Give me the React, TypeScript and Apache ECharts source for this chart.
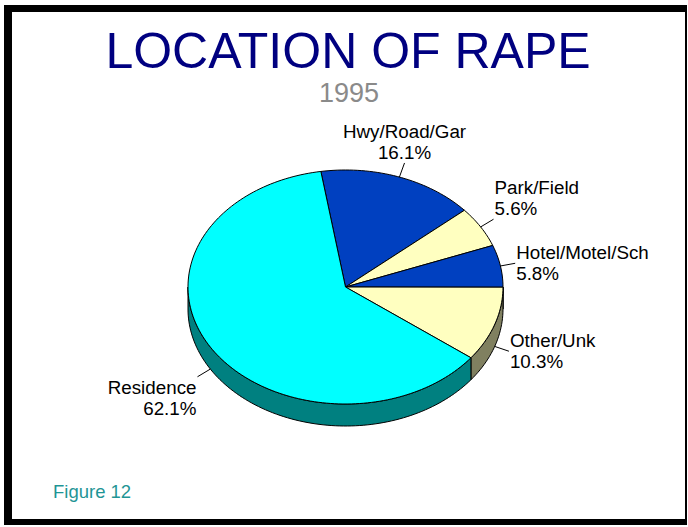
import React, { useEffect, useRef } from "react";
import * as echarts from "echarts";

// ---- data ----
const categories = ["Hwy/Road/Gar", "Park/Field", "Hotel/Motel/Sch", "Other/Unk", "Residence"];
const percents = [16.1, 5.6, 5.8, 10.3, 62.1];
const titleText = "LOCATION OF RAPE";
const subtitleText = "1995";
const figureText = "Figure 12";

// ---- styles ----
const topColors = ["#0040C0", "#FFFFC0", "#0040C0", "#FFFFC0", "#00FFFF"];
const sideColors = ["#002060", "#808060", "#002060", "#808060", "#008080"];
const FONT = '"Liberation Sans", Arial, sans-serif';

// ---- layout of the tilted pie ----
const CX = 345.5;
const CY = 287;
const RX = 157.5;
const RY = 117;
const DEPTH = 22;
const START_ANGLE = 99; // degrees, counter-clockwise from 3 o'clock; slices run clockwise
const LEADER = 15;

const total = percents.reduce((a, b) => a + b, 0);

function sliceAngles(i: number) {
  let before = 0;
  for (let k = 0; k < i; k++) before += percents[k];
  const aStart = START_ANGLE - (before / total) * 360;
  const aEnd = aStart - (percents[i] / total) * 360;
  return { aStart, aEnd };
}

function pt(a: number, dy = 0): number[] {
  const r = (a * Math.PI) / 180;
  return [CX + RX * Math.cos(r), CY - RY * Math.sin(r) + dy];
}

function arcPts(a1: number, a2: number, dy = 0): number[][] {
  const n = Math.max(2, Math.ceil(Math.abs(a2 - a1) / 1.5));
  const out: number[][] = [];
  for (let i = 0; i <= n; i++) out.push(pt(a1 + ((a2 - a1) * i) / n, dy));
  return out;
}

function renderSide(params: any) {
  const i = params.dataIndex;
  const { aStart, aEnd } = sliceAngles(i);
  const children: any[] = [];
  for (const k of [-1, 0, 1]) {
    const lo = Math.max(aEnd, -180 + 360 * k);
    const hi = Math.min(aStart, 360 * k);
    if (hi - lo > 0.01) {
      const pts = arcPts(hi, lo).concat(arcPts(lo, hi, DEPTH));
      children.push({
        type: "polygon",
        shape: { points: pts },
        style: { fill: sideColors[i], stroke: "#000", lineWidth: 1, lineJoin: "round" },
      });
    }
  }
  return { type: "group", children };
}

function renderTop(params: any, api: any) {
  const i = params.dataIndex;
  const value = api.value(0);
  const { aStart, aEnd } = sliceAngles(i);
  const pts = [[CX, CY]].concat(arcPts(aStart, aEnd));
  const mid = (aStart + aEnd) / 2;
  const r = (mid * Math.PI) / 180;
  const c = Math.cos(r);
  const s = Math.sin(r);
  const anchor = pt(mid, s < 0 ? DEPTH : 0);
  const end = [anchor[0] + c * LEADER, anchor[1] - s * LEADER];
  const align = c > 0.5 ? "left" : c < -0.5 ? "right" : "center";
  const vAlign = s > 0.4 ? "bottom" : s < -0.4 ? "top" : "middle";
  const tx = end[0] + (align === "left" ? 1 : align === "right" ? -1 : 0);
  return {
    type: "group",
    children: [
      {
        type: "polygon",
        shape: { points: pts },
        style: { fill: topColors[i], stroke: "#000", lineWidth: 1, lineJoin: "round" },
      },
      {
        type: "line",
        shape: { x1: anchor[0], y1: anchor[1], x2: end[0], y2: end[1] },
        style: { stroke: "#000", lineWidth: 1 },
      },
      {
        type: "text",
        style: {
          text: categories[i] + "\n" + value.toFixed(1) + "%",
          x: tx,
          y: end[1],
          fill: "#000",
          fontSize: 18.8,
          fontFamily: FONT,
          lineHeight: 21,
          textAlign: align,
          textVerticalAlign: vAlign,
          align: align,
          verticalAlign: vAlign,
        },
      },
    ],
  };
}

export default function App() {
  const ref = useRef<HTMLDivElement>(null);
  useEffect(() => {
    if (!ref.current) return;
    document.body.style.margin = "0";
    const chart = echarts.init(ref.current, undefined, { renderer: "svg" });
    const data = percents.map((v, i) => ({ name: categories[i], value: v }));
    chart.setOption({
      animation: false,
      backgroundColor: "#ffffff",
      graphic: [
        { type: "rect", shape: { x: 4, y: 5, width: 8, height: 520 }, style: { fill: "#000" } },
        { type: "rect", shape: { x: 4, y: 5, width: 683, height: 7 }, style: { fill: "#000" } },
        { type: "rect", shape: { x: 685, y: 5, width: 2, height: 520 }, style: { fill: "#000" } },
        { type: "rect", shape: { x: 4, y: 519, width: 683, height: 6 }, style: { fill: "#000" } },
        {
          type: "text",
          x: 348,
          y: 50.5,
          style: {
            text: titleText,
            fill: "#000080",
            fontSize: 50,
            fontFamily: FONT,
            textAlign: "center",
            textVerticalAlign: "middle",
          },
        },
        {
          type: "text",
          x: 349,
          y: 93,
          style: {
            text: subtitleText,
            fill: "#8a8a8a",
            fontSize: 27,
            fontFamily: FONT,
            textAlign: "center",
            textVerticalAlign: "middle",
          },
        },
        {
          type: "text",
          x: 53,
          y: 491,
          style: {
            text: figureText,
            fill: "#1f9595",
            fontSize: 18.5,
            fontFamily: FONT,
            textAlign: "left",
            textVerticalAlign: "middle",
          },
        },
      ],
      series: [
        { type: "custom", coordinateSystem: "none", renderItem: renderSide, data, silent: true },
        { type: "custom", coordinateSystem: "none", renderItem: renderTop, data, silent: true },
      ],
    });
    return () => chart.dispose();
  }, []);
  return <div ref={ref} style={{ position: "absolute", left: 0, top: 0, width: 688, height: 527 }} />;
}
